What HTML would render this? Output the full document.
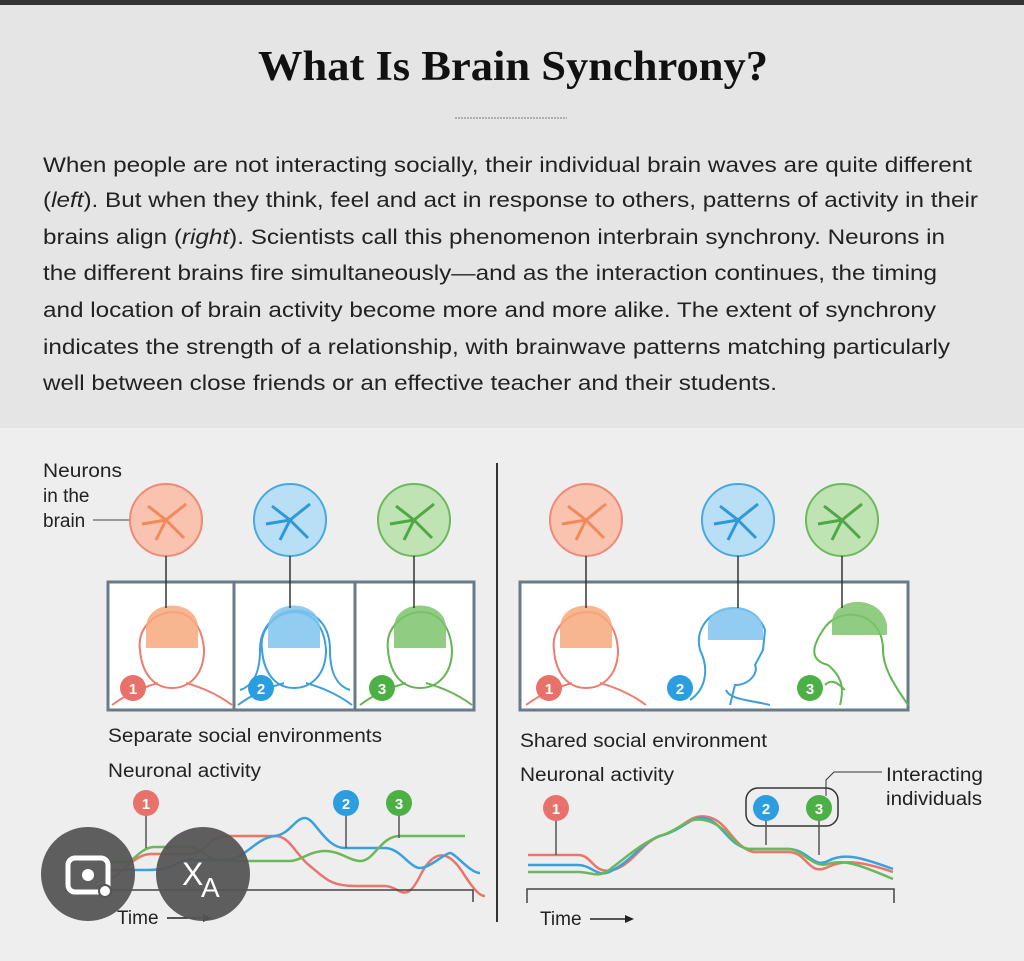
<!DOCTYPE html>
<html><head><meta charset="utf-8"><style>
body{margin:0;width:1024px;height:956px;overflow:hidden;background:#eeeeee;font-family:"Liberation Sans",sans-serif}
</style></head><body>
<svg width="1024" height="956" viewBox="0 0 1024 956" xmlns="http://www.w3.org/2000/svg" font-family="Liberation Sans, sans-serif">
<rect x="0" y="0" width="1024" height="428" fill="#e5e5e5"/>
<rect x="0" y="0" width="1024" height="5" fill="#333"/>
<text x="258" y="80" textLength="510" lengthAdjust="spacingAndGlyphs" font-family="Liberation Serif, serif" font-weight="bold" font-size="42" fill="#111">What Is Brain Synchrony?</text>
<line x1="455" y1="118" x2="567" y2="118" stroke="#777" stroke-dasharray="2,1"/>
<g font-size="21.5" fill="#222">
<text x="43" y="172" textLength="929" lengthAdjust="spacingAndGlyphs">When people are not interacting socially, their individual brain waves are quite different</text>
<text x="43" y="207" textLength="935" lengthAdjust="spacingAndGlyphs">(<tspan font-style="italic">left</tspan>). But when they think, feel and act in response to others, patterns of activity in their</text>
<text x="43" y="244" textLength="902" lengthAdjust="spacingAndGlyphs">brains align (<tspan font-style="italic">right</tspan>). Scientists call this phenomenon interbrain synchrony. Neurons in</text>
<text x="43" y="280" textLength="894" lengthAdjust="spacingAndGlyphs">the different brains fire simultaneously—and as the interaction continues, the timing</text>
<text x="43" y="317" textLength="893" lengthAdjust="spacingAndGlyphs">and location of brain activity become more and more alike. The extent of synchrony</text>
<text x="43" y="354" textLength="907" lengthAdjust="spacingAndGlyphs">indicates the strength of a relationship, with brainwave patterns matching particularly</text>
<text x="43" y="390" textLength="734" lengthAdjust="spacingAndGlyphs">well between close friends or an effective teacher and their students.</text>
</g>
<line x1="497" y1="463" x2="497" y2="922" stroke="#333" stroke-width="2"/>
<g font-size="19" fill="#222">
<text x="43" y="477" textLength="79" lengthAdjust="spacingAndGlyphs">Neurons</text><text x="43" y="502">in the</text><text x="43" y="527">brain</text>
</g>
<line x1="93" y1="520" x2="130" y2="520" stroke="#444"/>
<g stroke-width="2">
<circle cx="166" cy="520" r="36" fill="#f9c3b0" stroke="#ef8a78"/>
<circle cx="290" cy="520" r="36" fill="#b8dff5" stroke="#4aa8e0"/>
<circle cx="414" cy="520" r="36" fill="#bfe3b3" stroke="#6cba5c"/>
<circle cx="586" cy="520" r="36" fill="#f9c3b0" stroke="#ef8a78"/>
<circle cx="738" cy="520" r="36" fill="#b8dff5" stroke="#4aa8e0"/>
<circle cx="842" cy="520" r="36" fill="#bfe3b3" stroke="#6cba5c"/>
</g>
<g stroke-width="3" fill="none">
<path d="M166 520l-18-14M166 520l20-16M166 520l-10 20M166 520l18 18M166 520l-24 4" stroke="#f08a5a"/>
<path d="M290 520l-18-14M290 520l20-16M290 520l-10 20M290 520l18 18M290 520l-24 4" stroke="#2f98d8"/>
<path d="M414 520l-18-14M414 520l20-16M414 520l-10 20M414 520l18 18M414 520l-24 4" stroke="#4fa845"/>
<path d="M586 520l-18-14M586 520l20-16M586 520l-10 20M586 520l18 18M586 520l-24 4" stroke="#f08a5a"/>
<path d="M738 520l-18-14M738 520l20-16M738 520l-10 20M738 520l18 18M738 520l-24 4" stroke="#2f98d8"/>
<path d="M842 520l-18-14M842 520l20-16M842 520l-10 20M842 520l18 18M842 520l-24 4" stroke="#4fa845"/>
</g>
<rect x="108" y="582" width="366" height="128" fill="#fff" stroke="#6a7a88" stroke-width="3"/>
<line x1="234" y1="582" x2="234" y2="710" stroke="#6a7a88" stroke-width="3"/>
<line x1="355" y1="582" x2="355" y2="710" stroke="#6a7a88" stroke-width="3"/>
<rect x="520" y="582" width="388" height="128" fill="#fff" stroke="#6a7a88" stroke-width="3"/>
<g fill="none" stroke-width="2">
<path d="M140 650c-6-40 60-60 64 0c0 25-15 38-32 38s-30-13-32-38zM112 705c20-15 40-20 46-22M232 705c-20-15-40-20-46-22" stroke="#ec7d6e"/>
<path d="M262 650c-6-40 60-60 64 0c0 25-15 38-32 38s-30-13-32-38zM240 690c15-5 20-20 20-40c0-50 70-55 70 0c0 20 5 35 20 40M238 705c20-15 40-20 46-22M352 705c-20-15-40-20-46-22" stroke="#3b9fdc"/>
<path d="M388 650c-6-40 60-60 64 0c0 25-15 38-32 38s-30-13-32-38zM360 705c20-15 40-20 46-22M472 705c-20-15-40-20-46-22" stroke="#62b552"/>
<path d="M554 650c-6-40 60-60 64 0c0 25-15 38-32 38s-30-13-32-38zM526 705c20-15 40-20 46-22M646 705c-20-15-40-20-46-22" stroke="#ec7d6e"/>
<path d="M690 700c15-10 20-30 10-50c-10-40 50-60 65-20l-2 20 -8 15c4 8-6 20-20 20l-5 20M770 705c-20-5-40-5-44-15" stroke="#3b9fdc"/>
<path d="M840 705c5-20 0-30-12-40c-20-5-15-20-5-35c15-25 60-20 60 20c0 20 15 40 25 55M845 690c-10-10-15-10-20-5" stroke="#62b552"/>
</g>
<g>
<path d="M146 628c0-30 52-30 52 0v20h-52z" fill="#f7a97c" opacity=".85"/>
<path d="M268 628c0-30 52-30 52 0v20h-52z" fill="#7fc4ee" opacity=".85"/>
<path d="M394 628c0-30 52-30 52 0v20h-52z" fill="#7cc46c" opacity=".85"/>
<path d="M560 628c0-30 52-30 52 0v20h-52z" fill="#f7a97c" opacity=".85"/>
<path d="M708 625c0-25 55-25 55 5v10h-55z" fill="#7fc4ee" opacity=".85"/>
<path d="M832 620c5-25 50-25 55 5v10h-55z" fill="#7cc46c" opacity=".85"/>
</g>
<g stroke="#333" stroke-width="1.5">
<line x1="166" y1="556" x2="166" y2="608"/><line x1="290" y1="556" x2="290" y2="608"/><line x1="414" y1="556" x2="414" y2="608"/>
<line x1="586" y1="556" x2="586" y2="608"/><line x1="738" y1="556" x2="738" y2="608"/><line x1="842" y1="556" x2="842" y2="608"/>
</g>
<g font-size="15" font-weight="bold" fill="#fff" text-anchor="middle">
<circle cx="133" cy="688" r="13" fill="#e8726a"/><text x="133" y="694">1</text>
<circle cx="261" cy="688" r="13" fill="#2a9ee0"/><text x="261" y="694">2</text>
<circle cx="382" cy="688" r="13" fill="#4cb044"/><text x="382" y="694">3</text>
<circle cx="549" cy="688" r="13" fill="#e8726a"/><text x="549" y="694">1</text>
<circle cx="680" cy="688" r="13" fill="#2a9ee0"/><text x="680" y="694">2</text>
<circle cx="810" cy="688" r="13" fill="#4cb044"/><text x="810" y="694">3</text>
</g>
<g font-size="19" fill="#222">
<text x="108" y="742" textLength="274" lengthAdjust="spacingAndGlyphs">Separate social environments</text>
<text x="108" y="777" textLength="153" lengthAdjust="spacingAndGlyphs">Neuronal activity</text>
<text x="520" y="747" textLength="247" lengthAdjust="spacingAndGlyphs">Shared social environment</text>
<text x="520" y="781" textLength="154" lengthAdjust="spacingAndGlyphs">Neuronal activity</text>
<text x="886" y="781" textLength="97" lengthAdjust="spacingAndGlyphs">Interacting</text>
<text x="886" y="805" textLength="96" lengthAdjust="spacingAndGlyphs">individuals</text>
</g>
<path d="M826 796v-16l8-8h48" fill="none" stroke="#333"/>
<rect x="746" y="788" width="92" height="38" rx="12" fill="none" stroke="#333" stroke-width="1.5"/>
<g fill="none" stroke-width="2.5">
<path d="M110 880c15-10 25-25 40-26h40c15 0 20-18 35-18h50c15 0 20 18 35 30c15 12 20 20 45 20h30c15 0 20 20 35-10c15-30 30-25 45 0c10 15 15 20 20 20" stroke="#e8766c"/>
<path d="M110 870h35c15 0 20 0 40-10h40c20 0 30-22 50-24c15-2 20-18 30-18c10 0 20 30 40 30h40c15 0 25 20 35 20s25-15 30-15s20 20 30 20" stroke="#3aa1dc"/>
<path d="M110 862h15c10 0 15-15 30-15h35c10 0 15 14 40 14h60c10 0 20-10 35-10c15 0 25 10 35 10c15 0 20-25 40-25h65" stroke="#6ab85a"/>
</g>
<g stroke="#555" stroke-width="1.5">
<line x1="146" y1="815" x2="146" y2="848"/><line x1="346" y1="815" x2="346" y2="848"/><line x1="399" y1="815" x2="399" y2="838"/>
</g>
<g font-size="15" font-weight="bold" fill="#fff" text-anchor="middle">
<circle cx="146" cy="803" r="13" fill="#e8726a"/><text x="146" y="809">1</text>
<circle cx="346" cy="803" r="13" fill="#2a9ee0"/><text x="346" y="809">2</text>
<circle cx="399" cy="803" r="13" fill="#4cb044"/><text x="399" y="809">3</text>
</g>
<path d="M106 890h367v12" fill="none" stroke="#444" stroke-width="1.5"/>
<text x="117" y="924" font-size="19" fill="#222">Time</text>
<line x1="167" y1="918" x2="205" y2="918" stroke="#222" stroke-width="1.5"/><path d="M212 918l-9-4v8z" fill="#222"/>
<g fill="none" stroke-width="2.5">
<path d="M528 855h50c15 0 15 20 35 15c20-5 30-30 50-35c20-5 25-22 45-18c20 4 25 30 45 35h35c20 0 20 25 40 15c15-7 30-7 65 5" stroke="#e8766c"/>
<path d="M528 865h50c15 0 20 15 35 5c20-10 30-30 50-35c20-5 30-22 45-16c15 6 20 25 40 30h40c20 0 25 20 40 12c15-8 30-5 65 8" stroke="#3aa1dc"/>
<path d="M528 872h50c15 0 20 8 35-5c20-15 30-25 50-32c20-7 25-20 45-14c20 6 25 25 40 28h40c15 0 25 20 40 15c15-5 30 0 65 15" stroke="#6ab85a"/>
</g>
<g stroke="#555" stroke-width="1.5">
<line x1="556" y1="820" x2="556" y2="855"/><line x1="766" y1="820" x2="766" y2="845"/><line x1="819" y1="820" x2="819" y2="855"/>
</g>
<g font-size="15" font-weight="bold" fill="#fff" text-anchor="middle">
<circle cx="556" cy="808" r="13" fill="#e8726a"/><text x="556" y="814">1</text>
<circle cx="766" cy="808" r="13" fill="#2a9ee0"/><text x="766" y="814">2</text>
<circle cx="819" cy="808" r="13" fill="#4cb044"/><text x="819" y="814">3</text>
</g>
<path d="M527 903v-14h367v14" fill="none" stroke="#444" stroke-width="1.5"/>
<text x="540" y="925" font-size="19" fill="#222">Time</text>
<line x1="590" y1="919" x2="627" y2="919" stroke="#222" stroke-width="1.5"/><path d="M634 919l-9-4v8z" fill="#222"/>
<circle cx="88" cy="874" r="47" fill="#555" opacity=".95"/>
<circle cx="203" cy="874" r="47" fill="#555" opacity=".95"/>
<rect x="68" y="858" width="40" height="34" rx="7" fill="none" stroke="#fff" stroke-width="5"/>
<circle cx="88" cy="875" r="6" fill="#fff"/><circle cx="105" cy="891" r="6" fill="#fff" stroke="#555" stroke-width="2"/>
<text x="182" y="885" font-size="32" fill="#fff">X</text><text x="201" y="897" font-size="28" fill="#fff">A</text>
</svg>
</body></html>
